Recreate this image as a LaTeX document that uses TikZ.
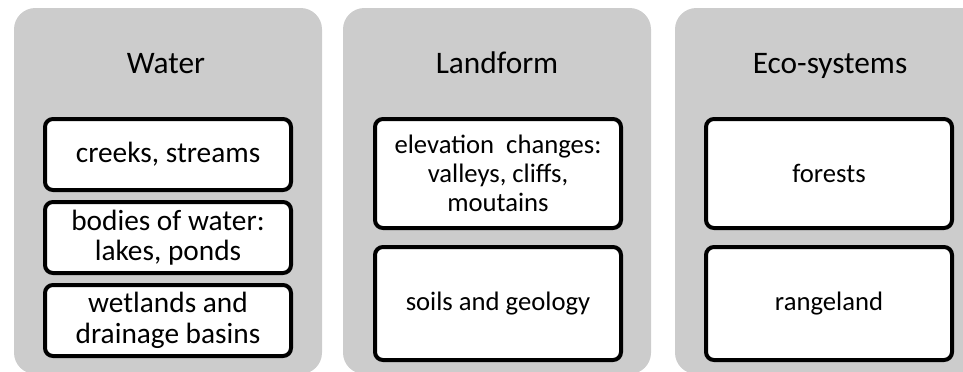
\documentclass[tikz,border=0pt]{standalone}
\usepackage{fontspec}
\setmainfont{Carlito}
\definecolor{panelgray}{RGB}{204,204,204}
\begin{document}
\begin{tikzpicture}[x=0.75pt,y=-0.75pt,
  panel/.style={fill=panelgray, draw=none, rounded corners=16pt, minimum width=231pt, minimum height=274.5pt, inner sep=0pt},
  title/.style={font=\fontsize{23.5}{27}\selectfont, inner sep=0pt, anchor=base},
  item/.style={draw=black, fill=white, line width=3pt, rounded corners=6pt, minimum width=184.5pt, align=center, inner sep=0pt, font=\fontsize{22}{22.8}\selectfont},
  smallitem/.style={item, font=\fontsize{20}{21.75}\selectfont}
]
\useasboundingbox (0,0) rectangle (963,371);
\begin{scope}
\clip (0,0) rectangle (963,371);
\node[panel] (pw) at (168,191) {};
\node[panel] (pl) at (497,191) {};
\node[panel] (pe) at (829,191) {};
\end{scope}
\node[title] (tw) at (166,73) {Water};
\node[title] (tl) at (497,73) {Landform};
\node[title] (te) at (830,73) {Eco-systems};
\node[item, minimum height=53.25pt] (w1) at (168,154.5) {creeks, streams};
\node[item, minimum height=53.25pt] (w2) at (168,237.5) {bodies of water:\\lakes, ponds};
\node[item, minimum height=53.25pt] (w3) at (168,320.5) {wetlands and\\drainage basins};
\node[smallitem, minimum height=81.75pt] (l1) at (498,173.5) {elevation\ \ changes:\\valleys, cliffs,\\moutains};
\node[smallitem, minimum height=84.75pt] (l2) at (498,303.5) {soils and geology};
\node[smallitem, minimum height=81.75pt] (e1) at (829,173.5) {forests};
\node[smallitem, minimum height=84.75pt] (e2) at (829,303.5) {rangeland};
\end{tikzpicture}
\end{document}
